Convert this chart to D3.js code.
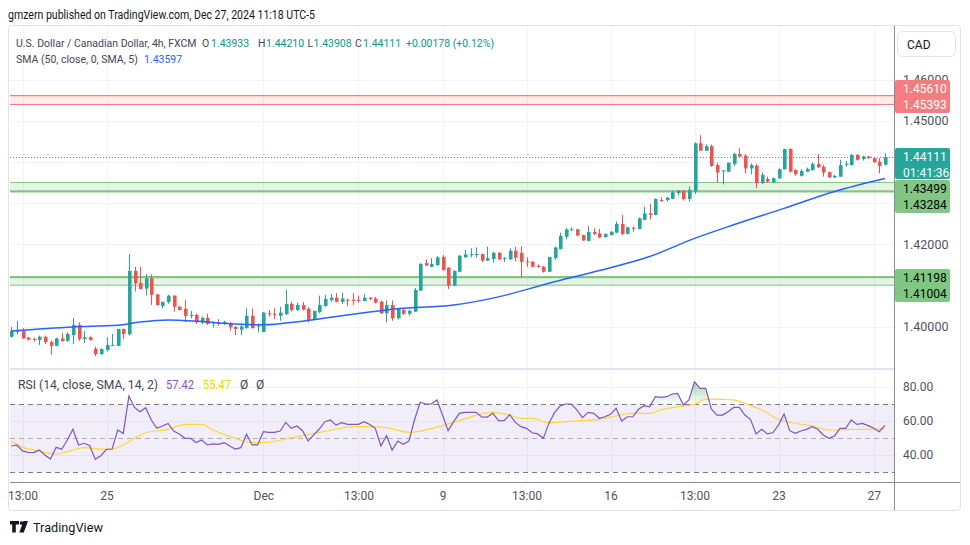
<!DOCTYPE html>
<html><head><meta charset="utf-8">
<script src="https://cdn.jsdelivr.net/npm/d3@7"></script>
<style>
body{margin:0;background:#fff;}
svg{display:block;font-family:Roboto,"Noto Sans",sans-serif;}
</style>
</head><body>
<svg id="c" width="970" height="545"></svg>
<script>
// ---------- DATA ----------
const opens=[1.3975,1.3987,1.3990,1.3973,1.3970,1.3967,1.3975,1.3962,1.3953,1.3971,1.3965,1.3979,1.4004,1.3970,1.3974,1.3946,1.3933,1.3943,1.3954,1.3953,
1.3994,1.3981,1.4135,1.4106,1.4092,1.4117,1.4078,1.4050,1.4059,1.4075,1.4048,1.4043,1.4026,1.4028,1.4010,1.4021,1.4008,1.4009,1.4006,1.4009,
1.3999,1.3992,1.3996,1.4026,1.4000,1.3987,1.4032,1.4031,1.4026,1.4030,1.4055,1.4040,1.4052,1.4043,1.4017,1.4035,1.4050,1.4064,1.4070,1.4060,
1.4065,1.4065,1.4065,1.4062,1.4070,1.4068,1.4060,1.4032,1.4052,1.4020,1.4040,1.4031,1.4036,1.4087,1.4154,1.4145,1.4149,1.4169,1.4143,1.4099,
1.4133,1.4168,1.4175,1.4175,1.4176,1.4160,1.4164,1.4179,1.4164,1.4163,1.4184,1.4179,1.4158,1.4157,1.4147,1.4145,1.4133,1.4166,1.4188,1.4218,
1.4235,1.4236,1.4222,1.4208,1.4230,1.4226,1.4217,1.4222,1.4228,1.4249,1.4225,1.4240,1.4237,1.4259,1.4275,1.4271,1.4307,1.4307,1.4310,1.4324,
1.4330,1.4310,1.4328,1.4445,1.4427,1.4438,1.4392,1.4377,1.4376,1.4395,1.4419,1.4415,1.4384,1.4391,1.4348,1.4358,1.4350,1.4360,1.4382,1.4431,
1.4380,1.4366,1.4376,1.4380,1.4395,1.4388,1.4375,1.4362,1.4364,1.4394,1.4392,1.4417,1.4407,1.4413,1.4409,1.4400,1.43933];
const highs=[1.3999,1.4013,1.3996,1.3974,1.3973,1.3978,1.3978,1.3965,1.3973,1.3984,1.3986,1.4021,1.4010,1.3989,1.3976,1.3951,1.3947,1.3974,1.3982,1.3994,
1.3995,1.4176,1.4145,1.4145,1.4127,1.4127,1.4079,1.4060,1.4077,1.4076,1.4050,1.4064,1.4038,1.4031,1.4024,1.4031,1.4011,1.4018,1.4014,1.4011,
1.4001,1.4007,1.4044,1.4044,1.4007,1.4035,1.4040,1.4044,1.4048,1.4089,1.4060,1.4058,1.4060,1.4047,1.4038,1.4075,1.4077,1.4079,1.4081,1.4082,
1.4068,1.4081,1.4075,1.4078,1.4072,1.4072,1.4063,1.4063,1.4063,1.4044,1.4042,1.4041,1.4094,1.4154,1.4163,1.4166,1.4171,1.4174,1.4144,1.4136,
1.4173,1.4186,1.4190,1.4192,1.4177,1.4194,1.4182,1.4181,1.4169,1.4190,1.4194,1.4195,1.4168,1.4159,1.4151,1.4147,1.4169,1.4194,1.4228,1.4239,
1.4241,1.4237,1.4223,1.4244,1.4239,1.4237,1.4226,1.4232,1.4255,1.4271,1.4242,1.4242,1.4265,1.4291,1.4298,1.4311,1.4314,1.4315,1.4330,1.4332,
1.4331,1.4340,1.4447,1.4465,1.4442,1.4442,1.4398,1.4380,1.4398,1.4422,1.4433,1.4419,1.4396,1.4395,1.4374,1.4364,1.4362,1.4384,1.4432,1.4433,
1.4382,1.4382,1.4386,1.4399,1.4419,1.4392,1.4376,1.4368,1.4405,1.4402,1.4419,1.4419,1.4415,1.4414,1.4410,1.4409,1.44210];
const lows=[1.3973,1.3981,1.3970,1.3966,1.3963,1.3955,1.3957,1.3931,1.3952,1.3963,1.3963,1.3957,1.3965,1.3960,1.3966,1.3928,1.3931,1.3939,1.3953,1.3952,
1.3970,1.3978,1.4085,1.4090,1.4075,1.4052,1.4051,1.4044,1.4055,1.4036,1.4039,1.4010,1.4020,1.4006,1.4006,1.4004,1.3998,1.4002,1.4004,1.3990,
1.3979,1.3979,1.3995,1.3995,1.3986,1.3986,1.4024,1.4018,1.4014,1.4028,1.4036,1.4038,1.4039,1.4010,1.4016,1.4032,1.4048,1.4060,1.4059,1.4055,
1.4050,1.4052,1.4058,1.4061,1.4064,1.4056,1.4030,1.4010,1.4014,1.4017,1.4028,1.4026,1.4035,1.4086,1.4147,1.4144,1.4148,1.4136,1.4091,1.4098,
1.4132,1.4167,1.4168,1.4168,1.4157,1.4159,1.4155,1.4162,1.4157,1.4162,1.4158,1.4119,1.4145,1.4144,1.4143,1.4131,1.4132,1.4162,1.4187,1.4212,
1.4233,1.4220,1.4208,1.4207,1.4222,1.4215,1.4216,1.4221,1.4227,1.4222,1.4224,1.4230,1.4236,1.4258,1.4260,1.4270,1.4303,1.4303,1.4309,1.4319,
1.4306,1.4303,1.4322,1.4427,1.4426,1.4388,1.4349,1.4345,1.4375,1.4390,1.4411,1.4372,1.4370,1.4336,1.4347,1.4349,1.4349,1.4359,1.4381,1.4374,
1.4366,1.4364,1.4375,1.4378,1.4385,1.4364,1.4361,1.4361,1.4363,1.4388,1.4391,1.4403,1.4403,1.4407,1.4398,1.4372,1.43908];
const closes=[1.3989,1.3990,1.3971,1.3968,1.3968,1.3975,1.3962,1.3953,1.3971,1.3965,1.3982,1.4004,1.3970,1.3974,1.3967,1.3933,1.3945,1.3955,1.3955,1.3994,
1.3982,1.4135,1.4105,1.4091,1.4117,1.4077,1.4052,1.4060,1.4075,1.4048,1.4040,1.4026,1.4028,1.4010,1.4021,1.4006,1.4010,1.4006,1.4011,1.3998,
1.3994,1.4000,1.4026,1.3996,1.4002,1.4034,1.4030,1.4029,1.4034,1.4055,1.4040,1.4052,1.4041,1.4016,1.4038,1.4052,1.4067,1.4070,1.4060,1.4068,
1.4063,1.4062,1.4062,1.4070,1.4067,1.4058,1.4032,1.4052,1.4020,1.4043,1.4031,1.4038,1.4089,1.4152,1.4148,1.4152,1.4168,1.4137,1.4099,1.4135,
1.4172,1.4175,1.4176,1.4176,1.4160,1.4166,1.4179,1.4163,1.4166,1.4184,1.4167,1.4157,1.4157,1.4145,1.4146,1.4133,1.4169,1.4192,1.4220,1.4236,
1.4236,1.4221,1.4209,1.4230,1.4225,1.4216,1.4225,1.4230,1.4249,1.4225,1.4241,1.4239,1.4263,1.4275,1.4271,1.4310,1.4306,1.4313,1.4326,1.4330,
1.4310,1.4332,1.4445,1.4427,1.4438,1.4390,1.4374,1.4379,1.4398,1.4419,1.4413,1.4384,1.4392,1.4348,1.4368,1.4352,1.4360,1.4382,1.4431,1.4376,
1.4370,1.4378,1.4383,1.4395,1.4387,1.4374,1.4362,1.4366,1.4392,1.4395,1.4417,1.4405,1.4413,1.4409,1.4399,1.4390,1.44111];

const smaIdx=[0,11,19,23,28,34,40,45,52,60,69,79,87,96,105,114,122,129,138,147,156];
const smaVal=[1.3989,1.3999,1.4003,1.4011,1.4016,1.4012,1.4006,1.4004,1.4013,1.4028,1.4043,1.4052,1.4072,1.4105,1.4136,1.4170,1.4214,1.4247,1.4287,1.4328,1.43597];

const rsi=[45.3,45.9,42.4,41.6,41.4,42.9,40.0,37.6,44.5,43.3,48.8,55.1,45.9,46.9,45.5,37.5,39.6,43.3,43.5,54.7,
52.7,74.7,68.0,65.5,67.8,60.6,55.7,57.1,58.6,54.1,52.4,49.8,49.8,47.3,48.8,45.9,46.5,46.3,47.3,45.3,
43.5,44.3,52.2,45.9,45.9,53.7,53.3,53.3,54.1,59.2,55.7,57.1,54.3,48.2,51.8,55.3,59.6,60.6,57.6,59.0,
58.0,58.0,58.0,59.6,58.0,55.7,45.3,51.4,42.9,48.2,46.3,48.2,60.6,71.0,70.0,70.0,72.4,63.5,54.3,59.6,
64.5,65.1,65.1,65.1,62.4,62.3,64.5,60.2,60.2,63.7,59.2,56.7,55.7,53.1,52.4,49.8,58.6,64.9,68.8,70.0,
70.0,66.5,62.0,65.1,64.5,61.6,62.5,63.9,67.5,60.0,62.5,62.5,66.9,69.0,68.4,74.3,73.9,74.3,75.9,76.3,
69.4,72.4,83.1,79.2,79.2,67.1,63.5,63.5,65.5,68.0,68.0,63.5,61.0,52.4,55.1,52.4,53.1,57.6,64.1,54.3,
52.7,54.1,55.1,56.7,55.1,51.8,49.8,51.2,55.7,55.7,60.6,58.0,58.6,57.3,55.7,53.7,57.42];

const rsiMaIdx=[0,2,4,8,10,13,16,18,20,22,24,28,31,34,36,40,43,46,49,52,55,58,61,64,67,71,74,77,80,84,86,89,91,93,96,99,102,105,108,111,114,116,119,122,124,127,129,131,134,137,140,143,146,148,150,153,156];
const rsiMaVal=[48.2,44.5,42.9,40.6,42.0,44.3,43.5,43.5,45.9,49.8,53.1,55.1,58.0,58.0,54.7,49.8,47.3,47.5,49.4,51.4,53.3,55.3,56.7,56.7,56.1,53.3,54.7,57.3,60.2,64.2,65.1,63.5,61.6,61.6,59.0,59.6,60.2,61.0,63.1,64.5,64.5,66.5,68.4,69.8,72.9,72.7,72.4,70.4,66.5,61.0,58.6,57.1,54.7,54.7,55.1,55.1,55.47];

const timeTickIdx=[2,17,45,62,77,92,107,122,137,154];
const timeTickLabels=["13:00","25","Dec","13:00","9","13:00","16","13:00","23","27"];
const priceGridTicks=[1.40,1.41,1.42,1.43,1.44,1.45,1.46];
const priceLabelTicks=[1.40,1.42,1.45,1.46];
const rsiTicks=[40,60,80];
const rsiLevels=[70,50,30];
const redZone=[1.45610,1.45393];
const greenZoneHigh=[1.43499,1.43284];
const greenZoneLow=[1.41198,1.41004];
const lastPrice=1.44111;
const lastPriceTimer="01:41:36";
const ohlcLabels=["O","H","L","C"];
const ohlcValues=["1.43933","1.44210","1.43908","1.44111"];

// ---------- LAYOUT ----------
const svg=d3.select("#c");
const L=10,R=894,PT=26,PB=368,RT=370,RB=482,AB=510,FR=960;
const n=closes.length;
const x=d3.scaleLinear().domain([0,n-1]).range([11.3,884.9]);
const y=d3.scaleLinear().domain([1.40,1.46]).range([326.5,79.5]);
const yr=d3.scaleLinear().domain([30,70]).range([472,404]);
const UP="#26a69a",DN="#ef5350",GRID="#f0f3fa",TXT="#131722",AX="#50535e",LEG="#434651";

const defs=svg.append("defs");
defs.append("clipPath").attr("id","cp").append("rect").attr("x",L).attr("y",PT).attr("width",R-L).attr("height",PB-PT);
defs.append("clipPath").attr("id","cr").append("rect").attr("x",L).attr("y",RT).attr("width",R-L).attr("height",RB-RT);
defs.append("clipPath").attr("id","cob").append("rect").attr("x",L).attr("y",RT).attr("width",R-L).attr("height",yr(70)-RT);
const grad=defs.append("linearGradient").attr("id","obg").attr("x1",0).attr("x2",0)
  .attr("gradientUnits","userSpaceOnUse").attr("y1",yr(85)).attr("y2",yr(70));
grad.append("stop").attr("offset",0).attr("stop-color","rgba(76,175,80,0.55)");
grad.append("stop").attr("offset",1).attr("stop-color","rgba(76,175,80,0.03)");

function txt(xp,yp,s,w,fill,size){
  const t=svg.append("text").attr("x",xp).attr("y",yp).attr("font-size",size||12).attr("fill",fill||LEG).text(s);
  if(w) t.attr("textLength",w).attr("lengthAdjust","spacingAndGlyphs");
  return t;
}

// header
txt(8,19,"gmzern published on TradingView.com, Dec 27, 2024 11:18 UTC-5",307,TXT,12.5);

// frame
svg.append("rect").attr("x",8.5).attr("y",25.5).attr("width",FR-8).attr("height",AB-25).attr("rx",3)
  .attr("fill","#fff").attr("stroke","#e0e3eb");

// grid
const gp=svg.append("g");
gp.selectAll(".hg").data(priceGridTicks).join("line").attr("x1",L).attr("x2",R)
  .attr("y1",d=>Math.round(y(d))+0.5).attr("y2",d=>Math.round(y(d))+0.5).attr("stroke",GRID);
gp.selectAll(".vg").data(timeTickIdx).join("line").attr("y1",PT).attr("y2",RB)
  .attr("x1",d=>Math.round(x(d))+0.5).attr("x2",d=>Math.round(x(d))+0.5).attr("stroke",GRID);
gp.selectAll(".rg").data(rsiTicks).join("line").attr("x1",L).attr("x2",R)
  .attr("y1",d=>Math.round(yr(d))+0.5).attr("y2",d=>Math.round(yr(d))+0.5).attr("stroke",GRID);

// price pane
const pp=svg.append("g").attr("clip-path","url(#cp)");
function zone(vals,fill,stroke,w1,w2){
  pp.append("rect").attr("x",L).attr("width",R-L).attr("y",y(vals[0])).attr("height",y(vals[1])-y(vals[0])).attr("fill",fill);
  pp.append("line").attr("x1",L).attr("x2",R).attr("y1",y(vals[0])).attr("y2",y(vals[0])).attr("stroke",stroke).attr("stroke-width",w1);
  pp.append("line").attr("x1",L).attr("x2",R).attr("y1",y(vals[1])).attr("y2",y(vals[1])).attr("stroke",stroke).attr("stroke-width",w2);
}
zone(redZone,"rgba(242,54,69,0.1)","#f77c80",1.2,1.2);
zone(greenZoneHigh,"rgba(76,175,80,0.14)","#81c784",1,2.2);
zone(greenZoneLow,"rgba(76,175,80,0.14)","#81c784",2.2,1);
pp.append("line").attr("x1",L).attr("x2",R).attr("y1",Math.round(y(lastPrice))+0.5).attr("y2",Math.round(y(lastPrice))+0.5)
  .attr("stroke",UP).attr("stroke-dasharray","1,2");

const idx=d3.range(n);
const cg=pp.append("g");
cg.selectAll(".w").data(idx).join("line")
  .attr("x1",i=>Math.round(x(i))+0.5).attr("x2",i=>Math.round(x(i))+0.5)
  .attr("y1",i=>y(highs[i])).attr("y2",i=>y(lows[i]))
  .attr("stroke",i=>closes[i]>=opens[i]?UP:DN).attr("stroke-width",1);
cg.selectAll(".b").data(idx).join("rect")
  .attr("x",i=>Math.round(x(i))-1).attr("width",3.6)
  .attr("y",i=>y(Math.max(opens[i],closes[i])))
  .attr("height",i=>Math.max(1,Math.abs(y(opens[i])-y(closes[i]))))
  .attr("fill",i=>closes[i]>=opens[i]?UP:DN);

pp.append("path").datum(smaIdx.map((d,k)=>[d,smaVal[k]]))
  .attr("d",d3.line().x(d=>x(d[0])).y(d=>y(d[1])).curve(d3.curveMonotoneX))
  .attr("fill","none").attr("stroke","#2962ff").attr("stroke-width",1.5);

// separator between panes
svg.append("line").attr("x1",L).attr("x2",R).attr("y1",369).attr("y2",369).attr("stroke","#e0e3eb").attr("stroke-width",2);

// RSI pane
const rp=svg.append("g").attr("clip-path","url(#cr)");
rp.append("rect").attr("x",L).attr("width",R-L).attr("y",yr(70)).attr("height",yr(30)-yr(70)).attr("fill","rgba(126,87,194,0.1)");
rp.selectAll(".lv").data(rsiLevels).join("line").attr("x1",L).attr("x2",R)
  .attr("y1",d=>Math.round(yr(d))+0.5).attr("y2",d=>Math.round(yr(d))+0.5)
  .attr("stroke",d=>d===50?"rgba(120,123,134,0.55)":"#787b86").attr("stroke-dasharray","5,4");
const rpts=idx.map(i=>[i,rsi[i]]);
rp.append("path").datum(rpts).attr("clip-path","url(#cob)")
  .attr("d",d3.area().x(d=>x(d[0])).y0(yr(70)).y1(d=>yr(d[1])))
  .attr("fill","url(#obg)");
rp.append("path").datum(rsiMaIdx.map((d,k)=>[d,rsiMaVal[k]]))
  .attr("d",d3.line().x(d=>x(d[0])).y(d=>yr(d[1])).curve(d3.curveMonotoneX))
  .attr("fill","none").attr("stroke","#fdd835").attr("stroke-width",1.2);
rp.append("path").datum(rpts)
  .attr("d",d3.line().x(d=>x(d[0])).y(d=>yr(d[1])))
  .attr("fill","none").attr("stroke","#7e57c2").attr("stroke-width",1.2);

// axes borders
svg.append("line").attr("x1",R+0.5).attr("x2",R+0.5).attr("y1",26).attr("y2",AB).attr("stroke","#8a8d96");
svg.append("line").attr("x1",L).attr("x2",FR).attr("y1",RB+0.5).attr("y2",RB+0.5).attr("stroke","#8a8d96");

// price axis
const pa=svg.append("g").attr("transform",`translate(${R},0)`)
  .call(d3.axisRight(y).tickValues(priceLabelTicks).tickFormat(d3.format(".5f")).tickSize(0).tickPadding(9));
pa.select(".domain").remove();
pa.selectAll("text").attr("font-size",12.5).attr("fill",AX).attr("font-family","Roboto, sans-serif");
const ra=svg.append("g").attr("transform",`translate(${R},0)`)
  .call(d3.axisRight(yr).tickValues(rsiTicks).tickFormat(d3.format(".2f")).tickSize(0).tickPadding(9));
ra.select(".domain").remove();
ra.selectAll("text").attr("font-size",12).attr("fill",AX).attr("font-family","Roboto, sans-serif");
const ta=svg.append("g").attr("transform",`translate(0,${RB})`)
  .call(d3.axisBottom(x).tickValues(timeTickIdx).tickFormat((d,k)=>timeTickLabels[k]).tickSize(0).tickPadding(9));
ta.select(".domain").remove();
ta.selectAll("text").attr("font-size",12).attr("fill",AX).attr("font-family","Roboto, sans-serif");

// right-scale label boxes
function box(y0,h,fill,texts,tc){
  svg.append("rect").attr("x",895).attr("y",y0).attr("width",55).attr("height",h).attr("rx",2).attr("fill",fill);
  texts.forEach((t,k)=>txt(903,y0+13+k*16,t,null,tc,12));
}
box(80,33,"#f77c80",redZone.map(d3.format(".5f")),"#fff");
box(148,31,"#26a69a",[d3.format(".5f")(lastPrice),lastPriceTimer],"#fff");
box(180,33,"#81c784",greenZoneHigh.map(d3.format(".5f")),"#000");
box(269,33,"#81c784",greenZoneLow.map(d3.format(".5f")),"#000");

// CAD button
svg.append("rect").attr("x",897.5).attr("y",31.5).attr("width",58).attr("height",25).attr("rx",5).attr("fill","#fff").attr("stroke","#e0e3eb");
txt(907,48.5,"CAD",null,TXT,12);

// legends
const LFS=10.5;
txt(16,47,"U.S. Dollar / Canadian Dollar, 4h, FXCM",null,LEG,LFS);
const labX=[202,258,307.5,355], valX=[211,266,313.5,363];
ohlcLabels.forEach((lab,k)=>{
  txt(labX[k],47,lab,null,LEG,LFS);
  txt(valX[k],47,ohlcValues[k],null,"#089981",LFS);
});
txt(406,47,"+0.00178 (+0.12%)",null,"#089981",LFS);
txt(16,63,"SMA (50, close, 0, SMA, 5)",null,LEG,LFS);
txt(144,63,"1.43597",null,"#2962ff",LFS);
txt(18,389,"RSI (14, close, SMA, 14, 2)",140);
txt(166,389,"57.42",28,"#7e57c2");
txt(203,389,"55.47",28,"#f5d200");
txt(240,389,"Ø");
txt(256,389,"Ø");

// TradingView logo
const lgo=svg.append("g").attr("fill","#131722");
lgo.append("path").attr("d","M10 521h9v3.5h-3.2v8h-3.6v-8H10z");
lgo.append("circle").attr("cx",21.5).attr("cy",523).attr("r",1.8);
lgo.append("path").attr("d","M23.5 521h4.5l-4.2 11.5h-4.5z");
txt(33,532,"TradingView",70,TXT,13.5);
</script>
</body></html>
